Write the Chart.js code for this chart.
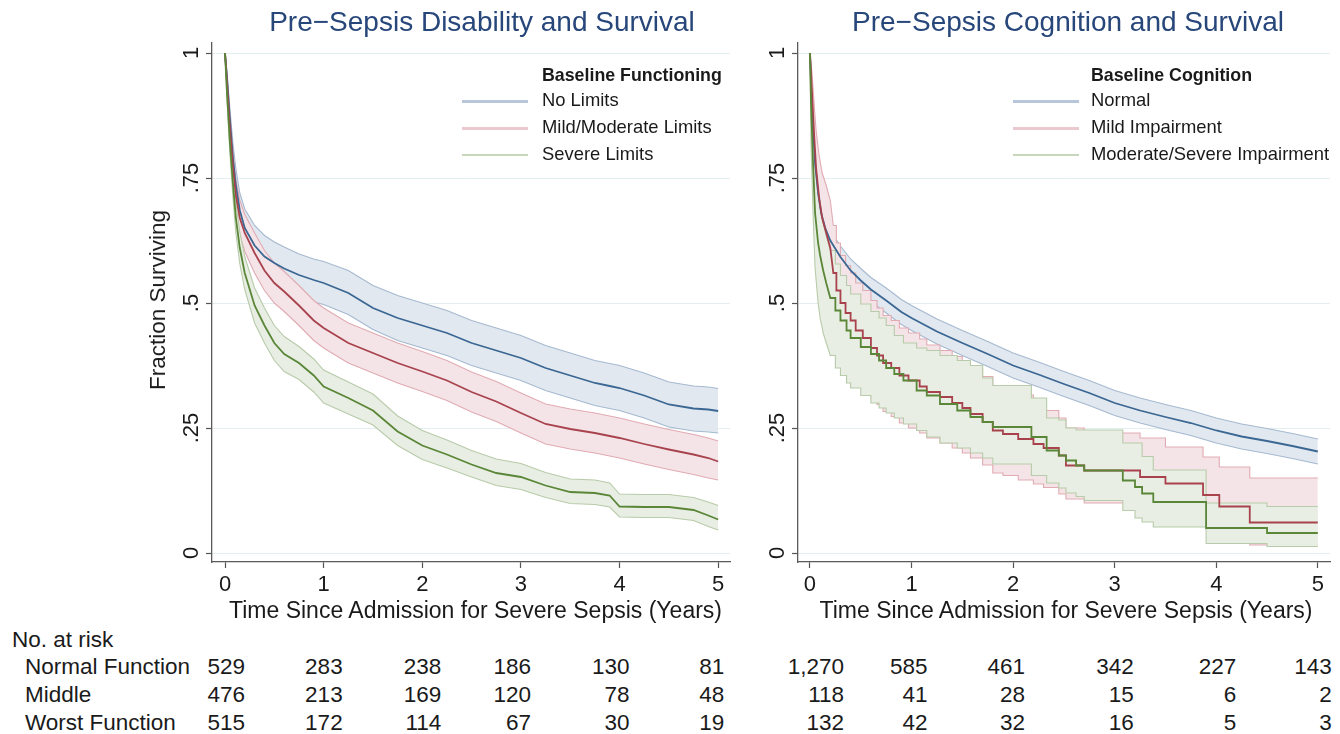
<!DOCTYPE html>
<html><head><meta charset="utf-8">
<script src="https://cdn.jsdelivr.net/npm/chart.js@4.4.1/dist/chart.umd.min.js"></script>
<style>
html,body{margin:0;padding:0;background:#fff}
body{width:1340px;height:734px;overflow:hidden;position:relative;font-family:"Liberation Sans",Arial,Helvetica,sans-serif;color:#1a1a1a}
canvas{position:absolute;top:0}
.ln{position:absolute;height:2.5px}
</style></head><body>
<canvas id="cL" width="740" height="600" style="left:0"></canvas>
<canvas id="cR" width="600" height="600" style="left:740px"></canvas>
<script>
// ---------- DATA ----------
const xTicks = [0, 1, 2, 3, 4, 5];
const yTicks = [0, 0.25, 0.5, 0.75, 1];
const yTickLabels = ["0", ".25", ".5", ".75", "1"];

// Left panel: Pre-Sepsis Disability
const leftTitle = "Pre\u2212Sepsis Disability and Survival";
const leftLegendTitle = "Baseline Functioning";
const leftGroups = ["No Limits", "Mild/Moderate Limits", "Severe Limits"];
const leftTimes = [0,0.02,0.05,0.08,0.11,0.15,0.2,0.3,0.4,0.5,0.6,0.75,0.9,1.0,1.25,1.5,1.75,2.0,2.25,2.5,2.75,3.0,3.25,3.5,3.75,3.9,4.0,4.25,4.5,4.75,4.9,5.0];
const noLimits      = [1,0.95,0.865,0.79,0.735,0.685,0.65,0.615,0.593,0.58,0.569,0.556,0.546,0.54,0.52,0.49,0.47,0.455,0.44,0.42,0.405,0.39,0.37,0.355,0.34,0.334,0.33,0.315,0.297,0.289,0.287,0.284];
const noLimitsHi    = [1,0.962,0.888,0.82,0.768,0.72,0.688,0.655,0.635,0.622,0.612,0.598,0.588,0.583,0.565,0.535,0.515,0.5,0.485,0.465,0.45,0.435,0.415,0.4,0.385,0.379,0.375,0.36,0.342,0.334,0.332,0.329];
const noLimitsLo    = [1,0.935,0.84,0.76,0.7,0.648,0.61,0.573,0.548,0.535,0.525,0.512,0.502,0.497,0.477,0.447,0.425,0.41,0.395,0.375,0.36,0.345,0.325,0.31,0.295,0.289,0.285,0.27,0.252,0.244,0.242,0.24];
const mildLimits    = [1,0.94,0.85,0.775,0.715,0.67,0.64,0.6,0.565,0.54,0.523,0.495,0.465,0.45,0.42,0.4,0.38,0.363,0.345,0.322,0.303,0.28,0.258,0.248,0.24,0.234,0.23,0.218,0.207,0.197,0.19,0.183];
const mildLimitsHi  = [1,0.952,0.872,0.803,0.747,0.705,0.677,0.64,0.605,0.58,0.563,0.535,0.505,0.49,0.46,0.44,0.42,0.403,0.385,0.362,0.343,0.32,0.298,0.288,0.28,0.274,0.27,0.258,0.247,0.237,0.23,0.224];
const mildLimitsLo  = [1,0.928,0.828,0.747,0.683,0.635,0.603,0.56,0.525,0.5,0.483,0.455,0.425,0.41,0.38,0.36,0.34,0.323,0.305,0.282,0.263,0.24,0.218,0.208,0.2,0.194,0.19,0.178,0.167,0.157,0.15,0.146];
const severeLimits  = [1,0.92,0.82,0.74,0.67,0.61,0.56,0.495,0.455,0.42,0.398,0.38,0.355,0.333,0.31,0.285,0.243,0.215,0.197,0.177,0.16,0.152,0.135,0.122,0.12,0.115,0.093,0.092,0.092,0.086,0.075,0.067];
const severeLimitsHi= [1,0.935,0.843,0.768,0.7,0.642,0.593,0.53,0.49,0.455,0.433,0.413,0.388,0.366,0.342,0.318,0.274,0.245,0.226,0.205,0.188,0.179,0.161,0.148,0.146,0.14,0.118,0.117,0.117,0.111,0.102,0.095];
const severeLimitsLo= [1,0.905,0.797,0.712,0.64,0.578,0.527,0.46,0.42,0.385,0.363,0.347,0.322,0.3,0.278,0.256,0.215,0.187,0.17,0.152,0.135,0.127,0.111,0.099,0.097,0.092,0.072,0.071,0.071,0.065,0.053,0.046];

// Right panel: Pre-Sepsis Cognition
const rightTitle = "Pre\u2212Sepsis Cognition and Survival";
const rightLegendTitle = "Baseline Cognition";
const rightGroups = ["Normal", "Mild Impairment", "Moderate/Severe Impairment"];
const normalTimes = [0,0.02,0.05,0.08,0.11,0.15,0.2,0.3,0.4,0.5,0.6,0.75,0.9,1.0,1.25,1.5,1.75,2.0,2.25,2.5,2.75,3.0,3.25,3.5,3.75,4.0,4.25,4.5,4.75,5.0];
const normalCog   = [1,0.88,0.78,0.72,0.68,0.65,0.625,0.592,0.565,0.545,0.527,0.505,0.482,0.47,0.443,0.42,0.398,0.375,0.357,0.338,0.32,0.3,0.285,0.272,0.26,0.245,0.233,0.224,0.214,0.203];
const normalCogHi = [1,0.892,0.795,0.737,0.698,0.669,0.645,0.614,0.588,0.569,0.551,0.53,0.507,0.495,0.468,0.445,0.423,0.4,0.382,0.363,0.345,0.325,0.31,0.297,0.285,0.27,0.258,0.249,0.239,0.228];
const normalCogLo = [1,0.868,0.765,0.703,0.662,0.631,0.605,0.57,0.542,0.521,0.503,0.48,0.457,0.445,0.418,0.395,0.373,0.35,0.332,0.313,0.295,0.275,0.26,0.247,0.235,0.22,0.208,0.199,0.189,0.178];
const mildTimes = [0,0.02,0.04,0.06,0.09,0.12,0.16,0.2,0.23,0.26,0.3,0.35,0.4,0.45,0.52,0.6,0.66,0.72,0.8,0.88,0.97,1.08,1.15,1.28,1.4,1.5,1.58,1.7,1.8,1.9,2.05,2.2,2.3,2.45,2.52,2.7,3.25,3.5,3.87,4.03,4.33,5.0];
const mildCog   = [1,0.92,0.84,0.77,0.71,0.67,0.64,0.61,0.56,0.525,0.5,0.48,0.465,0.445,0.43,0.41,0.395,0.38,0.37,0.355,0.345,0.333,0.322,0.312,0.3,0.29,0.278,0.262,0.245,0.238,0.228,0.218,0.21,0.195,0.175,0.165,0.152,0.139,0.116,0.093,0.061,0.061];
const mildCogHi = [1,0.96,0.9,0.845,0.795,0.76,0.735,0.705,0.655,0.62,0.595,0.575,0.56,0.54,0.525,0.505,0.49,0.475,0.465,0.45,0.44,0.428,0.416,0.405,0.393,0.383,0.37,0.353,0.335,0.327,0.316,0.295,0.285,0.27,0.25,0.24,0.23,0.212,0.192,0.172,0.15,0.15];
const mildCogLo = [1,0.86,0.76,0.68,0.615,0.575,0.54,0.51,0.46,0.425,0.4,0.38,0.365,0.345,0.33,0.31,0.297,0.283,0.273,0.26,0.25,0.24,0.23,0.22,0.21,0.2,0.19,0.176,0.16,0.155,0.146,0.138,0.131,0.118,0.108,0.1,0.093,0.072,0.054,0.038,0.016,0.016];
const sevTimes = [0,0.01,0.03,0.05,0.08,0.1,0.13,0.16,0.2,0.25,0.3,0.36,0.4,0.5,0.6,0.68,0.75,0.83,0.92,1.05,1.15,1.28,1.45,1.58,1.7,1.8,2.18,2.33,2.45,2.52,2.62,2.7,3.08,3.2,3.27,3.38,3.9,4.5,5.0];
const sevCog   = [1,0.9,0.78,0.68,0.62,0.595,0.565,0.54,0.51,0.485,0.465,0.445,0.43,0.412,0.398,0.385,0.37,0.358,0.345,0.325,0.315,0.298,0.285,0.272,0.262,0.252,0.232,0.205,0.195,0.185,0.175,0.165,0.145,0.132,0.119,0.102,0.05,0.04,0.04];
const sevCogHi = [1,0.95,0.86,0.775,0.715,0.69,0.66,0.635,0.605,0.578,0.555,0.535,0.518,0.498,0.483,0.47,0.455,0.435,0.42,0.41,0.405,0.395,0.385,0.375,0.35,0.335,0.31,0.27,0.266,0.25,0.246,0.246,0.22,0.22,0.193,0.166,0.1,0.093,0.093];
const sevCogLo = [1,0.82,0.68,0.57,0.5,0.47,0.44,0.42,0.395,0.37,0.355,0.34,0.33,0.315,0.3,0.29,0.28,0.27,0.258,0.245,0.232,0.22,0.21,0.2,0.19,0.178,0.155,0.14,0.13,0.12,0.113,0.105,0.085,0.07,0.062,0.052,0.019,0.013,0.013];

// Number at risk
const riskHeader = "No. at risk";
const riskRowLabels = ["Normal Function", "Middle", "Worst Function"];
const riskLeft = [
  [529, 283, 238, 186, 130, 81],
  [476, 213, 169, 120, 78, 48],
  [515, 172, 114, 67, 30, 19]
];
const riskRight = [
  [1270, 585, 461, 342, 227, 143],
  [118, 41, 28, 15, 6, 2],
  [132, 42, 32, 16, 5, 3]
];
const xAxisTitle = "Time Since Admission for Severe Sepsis (Years)";
const yAxisTitle = "Fraction Surviving";

// ---------- STYLE ----------
const FONT = '"Liberation Sans", Arial, Helvetica, sans-serif';
Chart.defaults.font.family = FONT;
const C = {
  blue:  {line:'#3a6793', edge:'#a5b9d0', fill:'#e2e8ef', key:'#b7c6d8'},
  red:   {line:'#a8434e', edge:'#e1abb3', fill:'#f4e4e7', key:'#ecc9ce'},
  green: {line:'#5a8638', edge:'#b8cbaa', fill:'#e8eee3', key:'#c8d6bc'}
};
const TXT = '#1a1a1a';

// points: linear before `stepFrom`, Kaplan-Meier style steps after it
function pts(t, v, stepFrom){
  const out = [];
  t.forEach((x,i)=>{
    if (i>0 && stepFrom !== undefined && x >= stepFrom) out.push({x:x, y:v[i-1]});
    out.push({x:x, y:v[i]});
  });
  return out;
}

function buildDatasets(groups){
  const ds = [];
  groups.forEach((g,i)=>{
    ds.push({data:pts(g.t,g.m,g.stepFrom), borderColor:g.col.line, borderWidth:1.8, pointRadius:0, fill:false, order:2-i});
  });
  groups.forEach((g,i)=>{
    const upIdx = ds.length;
    ds.push({data:pts(g.t,g.hi,g.stepFrom), borderColor:g.col.edge, borderWidth:1.1, pointRadius:0, fill:upIdx+1, backgroundColor:g.col.fill, order:8-2*i});
    ds.push({data:pts(g.t,g.lo,g.stepFrom), borderColor:g.col.edge, borderWidth:1.1, pointRadius:0, fill:false, order:7-2*i});
  });
  return ds;
}

const yLabelPlugin = {
  id:'ylab',
  afterDraw(chart){
    const s = chart.scales.y, ctx = chart.ctx;
    ctx.save();
    ctx.font = '22px ' + FONT; ctx.fillStyle = TXT; ctx.textAlign = 'center'; ctx.textBaseline = 'middle';
    s.ticks.forEach((t)=>{
      const y = s.getPixelForValue(t.value);
      ctx.save(); ctx.translate(chart.chartArea.left - 20, y); ctx.rotate(-Math.PI/2);
      ctx.fillText(yTickLabels[yTicks.indexOf(t.value)], 0, 0); ctx.restore();
    });
    ctx.restore();
  }
};

function makeChart(id, datasets, yWidth, xmin, xmax){
  return new Chart(document.getElementById(id), {
    type:'line',
    data:{datasets},
    options:{
      responsive:false, animation:false, devicePixelRatio:1,
      layout:{padding:{top:43, right:10, left:0, bottom:0}},
      plugins:{legend:{display:false}, tooltip:{enabled:false}},
      elements:{point:{radius:0}, line:{tension:0}},
      scales:{
        x:{type:'linear', min:xmin, max:xmax,
           afterBuildTicks:s=>{ s.ticks = xTicks.map(v=>({value:v})); },
           afterFit:s=>{ s.height = 38; },
           ticks:{font:{size:22, lineHeight:1}, color:TXT, padding:6, maxRotation:0, callback:v=>String(v)},
           grid:{drawOnChartArea:false, drawTicks:true, tickLength:6, tickColor:'#555', tickWidth:1.2},
           border:{display:true, color:'#5a5a5a', width:1.3}},
        y:{type:'linear', min:-0.018, max:1.02,
           afterBuildTicks:s=>{ s.ticks = yTicks.map(v=>({value:v})); },
           afterFit:s=>{ s.width = yWidth; },
           ticks:{display:false},
           grid:{color:'#e3eef0', lineWidth:1, drawTicks:true, tickLength:6, tickColor:'#555', tickWidth:1.2},
           border:{display:true, color:'#5a5a5a', width:1.3}}
      }
    },
    plugins:[yLabelPlugin]
  });
}

const left = makeChart('cL', buildDatasets([
  {t:leftTimes, m:noLimits, hi:noLimitsHi, lo:noLimitsLo, col:C.blue},
  {t:leftTimes, m:mildLimits, hi:mildLimitsHi, lo:mildLimitsLo, col:C.red},
  {t:leftTimes, m:severeLimits, hi:severeLimitsHi, lo:severeLimitsLo, col:C.green}
]), 212, -0.132, 5.12);

const right = makeChart('cR', buildDatasets([
  {t:normalTimes, m:normalCog, hi:normalCogHi, lo:normalCogLo, col:C.blue},
  {t:mildTimes, m:mildCog, hi:mildCogHi, lo:mildCogLo, col:C.red, stepFrom:0.25},
  {t:sevTimes, m:sevCog, hi:sevCogHi, lo:sevCogLo, col:C.green, stepFrom:0.25}
]), 58, -0.118, 5.12);

// ---------- TEXT (HTML) ----------
function txt(s, x, base, o){
  o = o || {};
  const fs = o.size || 22;
  const d = document.createElement('div');
  d.textContent = s;
  d.style.cssText = 'position:absolute;white-space:nowrap;line-height:1;font-size:'+fs+'px;font-weight:'+(o.bold?'bold':'normal')+';color:'+(o.color||TXT)+';top:'+(base-0.8465*fs)+'px;';
  if (o.align==='center'){ d.style.left = x+'px'; d.style.transform='translateX(-50%)'; }
  else if (o.align==='right'){ d.style.right = (1340-x)+'px'; }
  else { d.style.left = x+'px'; }
  document.body.appendChild(d);
  return d;
}
function keyLine(x1, x2, y, color){
  const d = document.createElement('div');
  d.className = 'ln';
  d.style.left = x1+'px'; d.style.width = (x2-x1)+'px'; d.style.top = (y-1.25)+'px'; d.style.background = color;
  document.body.appendChild(d);
}

// Titles
txt(leftTitle, 482, 32, {size:28, align:'center', color:'#27467a'});
txt(rightTitle, 1068, 32, {size:28, align:'center', color:'#27467a'});

// Axis titles
txt(xAxisTitle, 475.5, 618, {size:23, align:'center'});
txt(xAxisTitle, 1066, 618, {size:23, align:'center'});
(function(){
  const d = document.createElement('div');
  d.textContent = yAxisTitle;
  d.style.cssText = 'position:absolute;white-space:nowrap;line-height:22px;font-size:22.5px;color:'+TXT+';left:158px;top:300px;transform:translate(-50%,-50%) rotate(-90deg);';
  document.body.appendChild(d);
})();

// Legends
const keyCols = [C.blue.key, C.red.key, C.green.key];
function legend(x0Line, x1Line, xText, title, groups){
  txt(title, xText, 82, {size:17.8, bold:true});
  groups.forEach((g,i)=>{
    const base = 106.5 + i*26.8;
    keyLine(x0Line, x1Line, base-5, keyCols[i]);
    txt(g, xText, base, {size:18.4});
  });
}
legend(462, 528, 542, leftLegendTitle, leftGroups);
legend(1013, 1079, 1091, rightLegendTitle, rightGroups);

// Number at risk table
txt(riskHeader, 12, 648, {size:22.5});
const rowBase = [675, 703, 731];
riskRowLabels.forEach((l,i)=>txt(l, 25, rowBase[i], {size:22.5}));
const offL = [20, 19, 19, 10, 10, 6];
const offR = [34, 16, 12, 19, 20, 14];
function riskTable(chart, canvasLeft, rows, offs){
  const sx = chart.scales.x;
  rows.forEach((row,r)=>{
    row.forEach((v,c)=>{
      const px = canvasLeft + sx.getPixelForValue(xTicks[c]) + offs[c];
      txt(v.toLocaleString('en-US'), px, rowBase[r], {size:22.5, align:'right'});
    });
  });
}
riskTable(left, 0, riskLeft, offL);
riskTable(right, 740, riskRight, offR);
</script>
</body></html>
